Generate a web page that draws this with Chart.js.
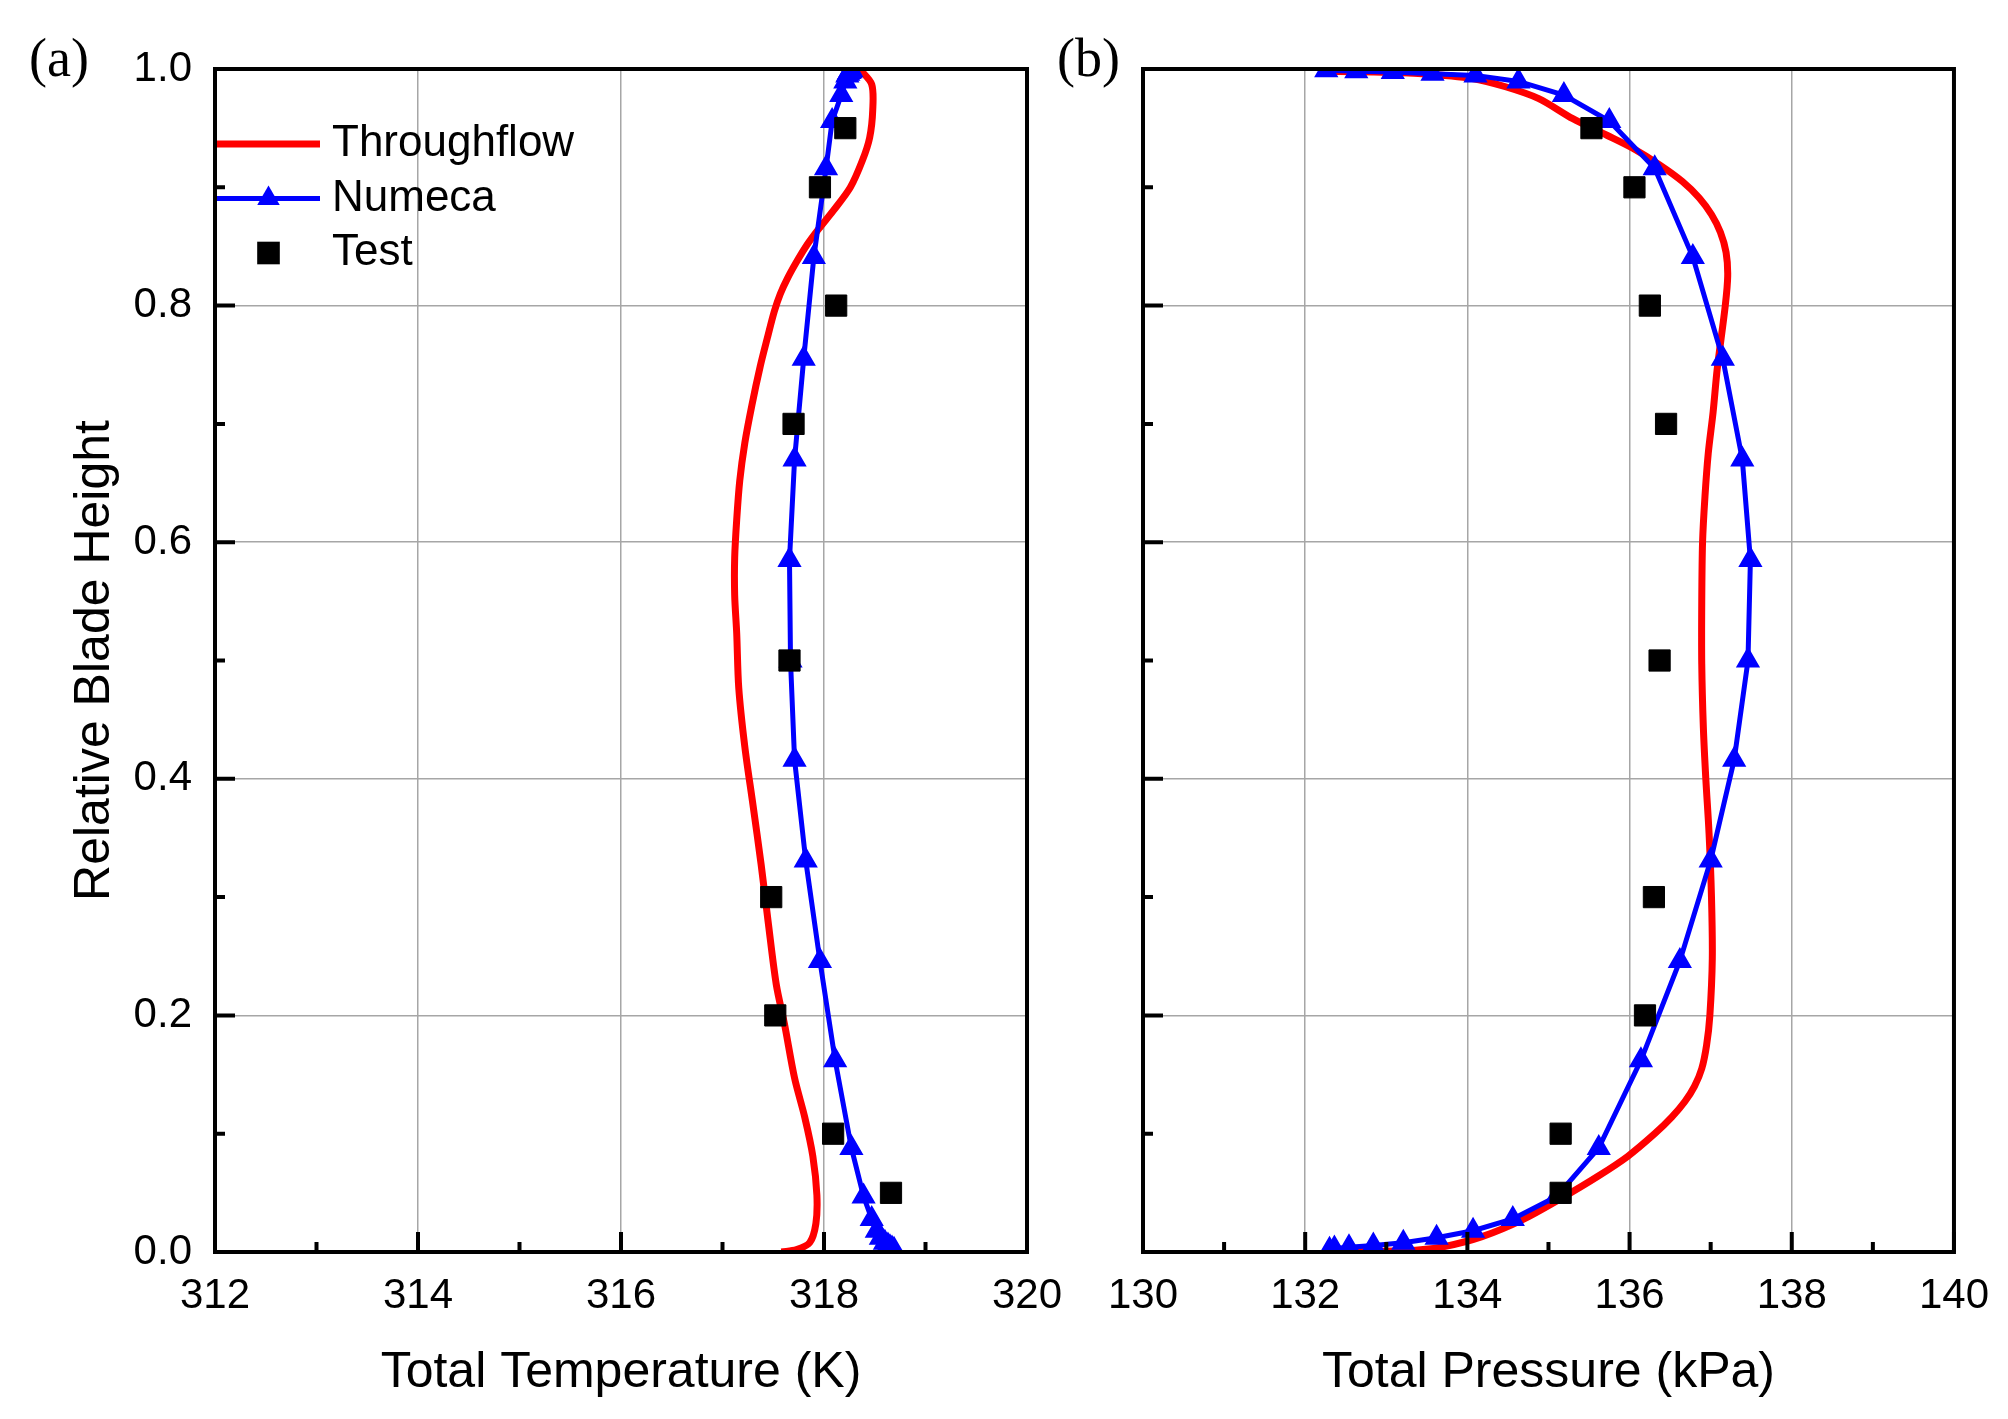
<!DOCTYPE html>
<html>
<head>
<meta charset="utf-8">
<title>Total temperature and total pressure vs blade height</title>
<script src="https://cdn.jsdelivr.net/npm/chart.js@4.4.1/dist/chart.umd.min.js"></script>
<style>
  html, body { margin: 0; padding: 0; background: #fff; }
  #wrap { position: relative; width: 2008px; height: 1419px; overflow: hidden; }
  canvas { position: absolute; top: 0; }
  #chart-a { left: 0; }
  #chart-b { left: 1040px; }
</style>
</head>
<body>
<div id="wrap">
  <canvas id="chart-a" width="1085" height="1419"></canvas>
  <canvas id="chart-b" width="968" height="1419"></canvas>
</div>
<script>
// axis ticks
const heightTicks = [0, 0.2, 0.4, 0.6, 0.8, 1.0];
const heightMinor = [0.1, 0.3, 0.5, 0.7, 0.9];
const tempTicks = [312, 314, 316, 318, 320];
const tempMinor = [313, 315, 317, 319];
const pressTicks = [130, 132, 134, 136, 138, 140];
const pressMinor = [131, 133, 135, 137, 139];

// Throughflow, panel (a)
const tfTempHeight = [0, 0.002, 0.008, 0.024, 0.048, 0.081, 0.114, 0.147, 0.193, 0.226, 0.279, 0.328,
  0.378, 0.427, 0.477, 0.523, 0.555, 0.587, 0.619, 0.652, 0.684, 0.716, 0.748, 0.772, 0.795, 0.81, 0.823,
  0.837, 0.851, 0.865, 0.88, 0.9, 0.923, 0.942, 0.965, 0.987, 1.0];
const tfTemp = [317.58, 317.73, 317.86, 317.92, 317.93, 317.89, 317.81, 317.71, 317.61, 317.53, 317.45, 317.38,
  317.30, 317.22, 317.16, 317.14, 317.12, 317.12, 317.14, 317.17, 317.22, 317.29, 317.37, 317.44, 317.51, 317.57, 317.64,
  317.73, 317.83, 317.95, 318.09, 318.26, 318.38, 318.45, 318.48, 318.47, 318.35];

// Throughflow, panel (b)
const tfPressHeight = [0, 0.0006, 0.0014, 0.0048, 0.013, 0.027, 0.0455, 0.064, 0.081, 0.1, 0.114, 0.127, 0.14,
  0.155, 0.175, 0.2, 0.248, 0.3, 0.354, 0.4, 0.443, 0.497, 0.55, 0.6, 0.639, 0.675, 0.71, 0.746, 0.8, 0.825,
  0.845, 0.862, 0.877, 0.891, 0.905, 0.919, 0.933, 0.944, 0.958, 0.975, 0.985, 0.992, 0.996, 0.9975, 0.998];
const tfPress = [132.22, 132.83, 133.36, 133.73, 134.18, 134.67, 135.16, 135.61, 135.98, 136.31, 136.52, 136.68, 136.80,
  136.89, 136.95, 136.99, 137.02, 137.01, 136.98, 136.94, 136.91, 136.89, 136.89, 136.90, 136.93, 136.97, 137.03, 137.08, 137.18, 137.21,
  137.19, 137.12, 137.01, 136.86, 136.65, 136.37, 136.04, 135.72, 135.30, 134.88, 134.47, 134.06, 133.44, 132.83, 132.22];

// Numeca
const numecaHeight = [0.002, 0.003, 0.004, 0.0055, 0.0078, 0.012, 0.018, 0.028, 0.047, 0.088, 0.162, 0.246,
  0.331, 0.416, 0.5, 0.585, 0.67, 0.755, 0.841, 0.916, 0.956, 0.978, 0.9895, 0.9946, 0.996, 0.9975, 0.998, 0.999];
const numecaTemp = [318.69, 318.67, 318.65, 318.63, 318.60, 318.56, 318.52, 318.47, 318.39, 318.27, 318.11, 317.96,
  317.82, 317.71, 317.67, 317.66, 317.71, 317.80, 317.90, 318.02, 318.08, 318.17, 318.21, 318.23, 318.24, 318.25, 318.26, 318.27];
const numecaPress = [132.30, 132.36, 132.54, 132.84, 133.21, 133.62, 134.07, 134.56, 135.10, 135.62, 136.14, 136.62,
  137.00, 137.29, 137.46, 137.49, 137.39, 137.15, 136.78, 136.31, 135.75, 135.19, 134.63, 134.10, 133.57, 133.08, 132.63, 132.26];

// Test
const testHeight = [0.05, 0.1, 0.2, 0.3, 0.5, 0.7, 0.8, 0.9, 0.95];
const testTemp = [318.66, 318.09, 317.52, 317.48, 317.66, 317.70, 318.12, 317.96, 318.21];
const testPress = [135.15, 135.15, 136.19, 136.30, 136.37, 136.45, 136.25, 136.06, 135.53];

const SANS = "'Liberation Sans', Arial, sans-serif";
Chart.defaults.font.family = SANS;
Chart.defaults.color = '#000';

function pairs(xs, ys) {
  return ys.map((h, i) => ({ x: xs[i], y: h }));
}

// box frame, inward ticks and panel letter
const frameTicks = {
  id: 'frameTicks',
  afterDatasetsDraw(chart, args, opts) {
    const { ctx, chartArea: a } = chart;
    const xs = chart.scales.x, ys = chart.scales.y;
    ctx.save();
    ctx.strokeStyle = '#000';
    ctx.lineWidth = 4;
    ctx.beginPath();
    opts.xMajor.forEach(v => { const p = xs.getPixelForValue(v); ctx.moveTo(p, a.bottom); ctx.lineTo(p, a.bottom - 20); });
    opts.xMinor.forEach(v => { const p = xs.getPixelForValue(v); ctx.moveTo(p, a.bottom); ctx.lineTo(p, a.bottom - 10); });
    opts.yMajor.forEach(v => { const p = ys.getPixelForValue(v); ctx.moveTo(a.left, p); ctx.lineTo(a.left + 20, p); });
    opts.yMinor.forEach(v => { const p = ys.getPixelForValue(v); ctx.moveTo(a.left, p); ctx.lineTo(a.left + 10, p); });
    ctx.stroke();
    ctx.strokeRect(a.left, a.top, a.right - a.left, a.bottom - a.top);

    ctx.font = "54px 'Liberation Serif', 'Times New Roman', serif";
    ctx.fillStyle = '#000';
    ctx.textBaseline = 'middle';
    ctx.textAlign = 'left';
    ctx.fillText(opts.label, opts.labelX, opts.labelY);
    ctx.restore();
  }
};

// legend drawn inside panel (a)
const insideLegend = {
  id: 'insideLegend',
  afterDraw(chart, args, opts) {
    if (!opts.show) return;
    const ctx = chart.ctx;
    ctx.save();
    ctx.font = '44px ' + SANS;
    ctx.textBaseline = 'middle';
    ctx.textAlign = 'left';
    chart.data.datasets.slice().sort((a, b) => b.order - a.order).forEach((ds, i) => {
      const y = opts.top + i * opts.spacing;
      const x0 = opts.left, x1 = opts.left + opts.lineLength, xm = (x0 + x1) / 2;
      if (ds.showLine) {
        ctx.strokeStyle = ds.borderColor;
        ctx.lineWidth = ds.borderWidth;
        ctx.beginPath(); ctx.moveTo(x0, y); ctx.lineTo(x1, y); ctx.stroke();
      }
      if (ds.pointRadius > 0) {
        const r = ds.pointRadius + 1;
        ctx.fillStyle = ds.backgroundColor;
        ctx.beginPath();
        if (ds.pointStyle === 'triangle') {
          for (let k = 0; k < 3; k++) {
            const ang = k * 2 * Math.PI / 3;
            const px = xm + Math.sin(ang) * r, py = y - Math.cos(ang) * r;
            k ? ctx.lineTo(px, py) : ctx.moveTo(px, py);
          }
          ctx.closePath();
        } else {
          const s = Math.SQRT1_2 * r;
          ctx.rect(xm - s, y - s, 2 * s, 2 * s);
        }
        ctx.fill();
      }
      ctx.fillStyle = '#000';
      ctx.fillText(ds.label, x1 + opts.gap, y);
    });
    ctx.restore();
  }
};

function buildPanel(canvas, p) {
  return new Chart(canvas, {
    type: 'scatter',
    data: {
      datasets: [
        {
          label: 'Throughflow', order: 3, data: pairs(p.tfX, p.tfY),
          showLine: true, borderColor: '#ff0000', backgroundColor: '#ff0000', borderWidth: 7,
          pointRadius: 0, tension: 0.3, clip: 0
        },
        {
          label: 'Numeca', order: 2, data: pairs(p.numX, numecaHeight),
          showLine: true, borderColor: '#0000ff', backgroundColor: '#0000ff', borderWidth: 5,
          pointStyle: 'triangle', pointRadius: 12, pointBorderWidth: 2, pointBorderColor: '#0000ff',
          tension: 0, clip: 0
        },
        {
          label: 'Test', order: 1, data: pairs(p.testX, testHeight),
          showLine: false, borderColor: '#000', backgroundColor: '#000',
          pointStyle: 'rect', pointRadius: 15, pointBorderWidth: 1, clip: 0
        }
      ]
    },
    options: {
      responsive: false,
      devicePixelRatio: 1,
      animation: false,
      events: [],
      layout: { padding: { top: 69, right: p.padRight, bottom: 0, left: 0 } },
      scales: {
        x: {
          type: 'linear', position: 'bottom',
          min: p.xTicks[0], max: p.xTicks[p.xTicks.length - 1],
          afterBuildTicks: s => { s.ticks = p.xTicks.map(v => ({ value: v })); },
          afterFit: s => { s.height = 167; },
          ticks: { font: { size: 42 }, padding: 19, maxRotation: 0, callback: v => String(v) },
          grid: { color: '#a6a6a6', lineWidth: 1.5, drawTicks: false },
          border: { display: false },
          title: { display: true, text: p.xTitle, font: { size: 50 }, padding: { top: 0, bottom: 16 } }
        },
        y: {
          type: 'linear', position: 'left', min: 0, max: 1,
          afterBuildTicks: s => { s.ticks = heightTicks.map(v => ({ value: v })); },
          afterFit: s => { s.width = p.yWidth; },
          ticks: { display: p.yLabels, font: { size: 42 }, padding: 23, callback: v => v.toFixed(1) },
          grid: { color: '#a6a6a6', lineWidth: 1.5, drawTicks: false },
          border: { display: false },
          title: { display: p.yLabels, text: 'Relative Blade Height', font: { size: 50 }, padding: { top: 65, bottom: 0 } }
        }
      },
      plugins: {
        legend: { display: false },
        tooltip: { enabled: false },
        frameTicks: {
          xMajor: p.xTicks, xMinor: p.xMinor, yMajor: heightTicks, yMinor: heightMinor,
          label: p.label, labelX: p.labelX, labelY: 62
        },
        insideLegend: { show: p.legend, left: 217, lineLength: 103, gap: 12, top: 144, spacing: 54.5 }
      }
    },
    plugins: [frameTicks, insideLegend]
  });
}

buildPanel(document.getElementById('chart-a'), {
  tfX: tfTemp, tfY: tfTempHeight, numX: numecaTemp, testX: testTemp,
  xTicks: tempTicks, xMinor: tempMinor, xTitle: 'Total Temperature (K)',
  padRight: 58, yWidth: 215, yLabels: true, label: '(a)', labelX: 29, legend: true
});

buildPanel(document.getElementById('chart-b'), {
  tfX: tfPress, tfY: tfPressHeight, numX: numecaPress, testX: testPress,
  xTicks: pressTicks, xMinor: pressMinor, xTitle: 'Total Pressure (kPa)',
  padRight: 53, yWidth: 103, yLabels: false, label: '(b)', labelX: 17, legend: false
});
</script>
</body>
</html>
